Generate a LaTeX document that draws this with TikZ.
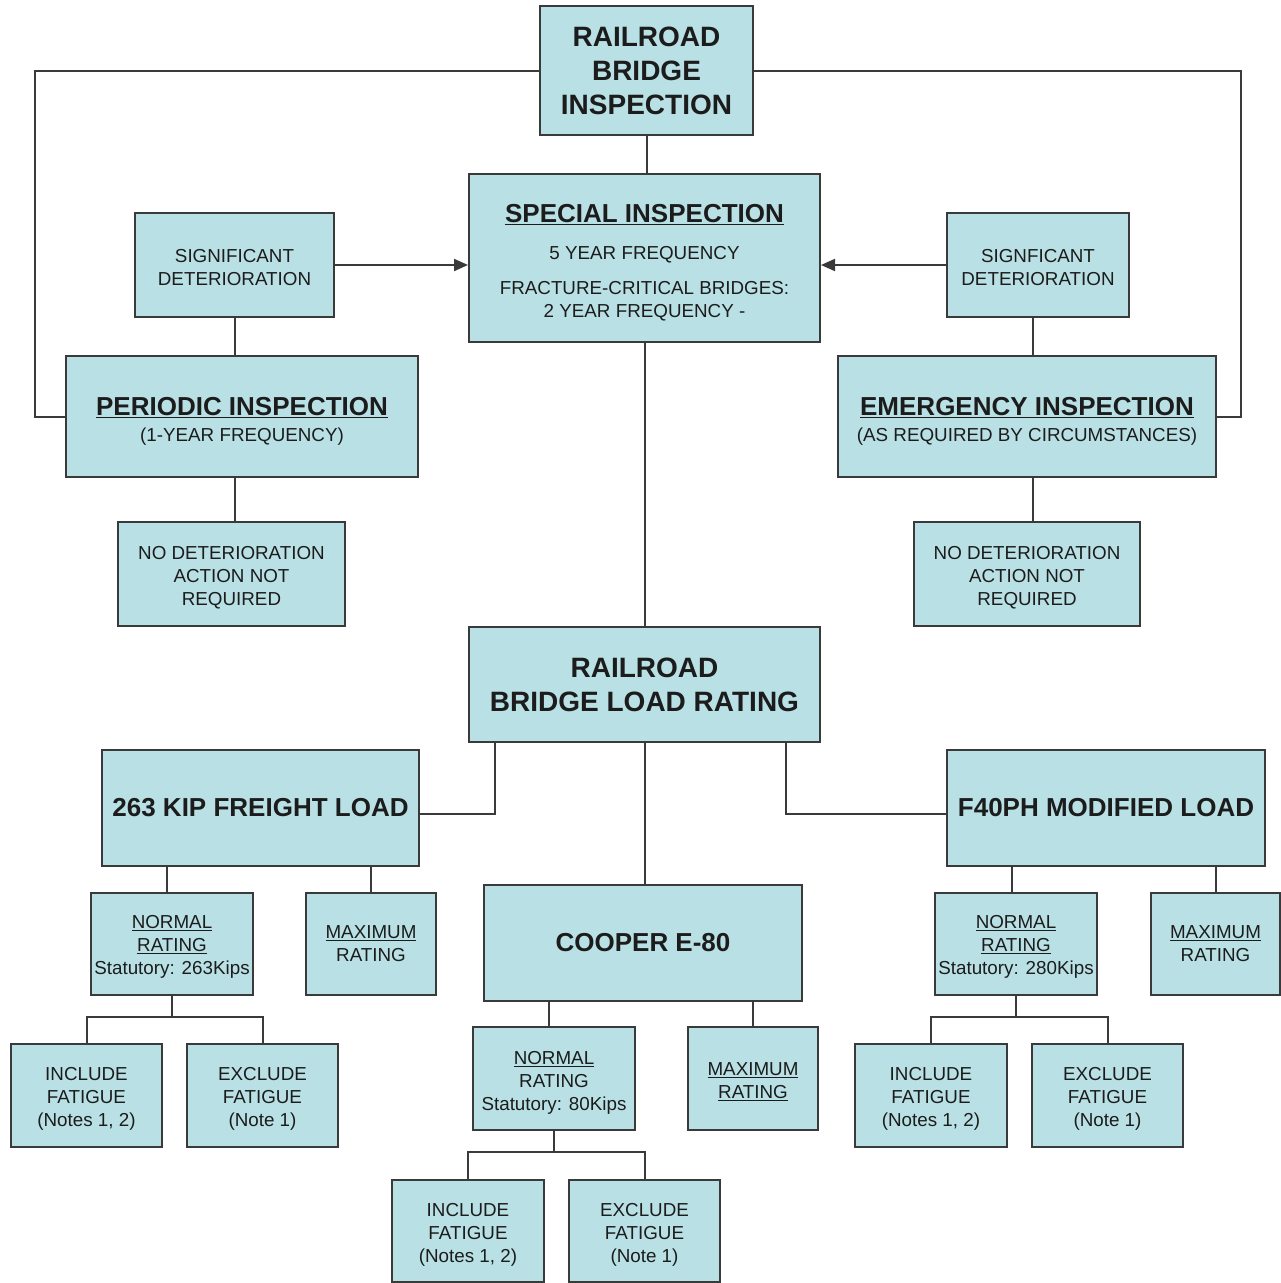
\documentclass[tikz,border=0pt]{standalone}
\usepackage{fontspec}
\setmainfont{Liberation Sans}
\usetikzlibrary{arrows.meta}
\definecolor{boxfill}{RGB}{185,225,229}
\definecolor{linec}{RGB}{58,58,58}
\definecolor{txt}{RGB}{28,28,28}
\tikzset{
  box/.style={draw=linec, fill=boxfill, line width=2pt, inner sep=0pt, align=center, text=txt,
    font=\fontsize{18.8}{23}\selectfont},
  bigbox/.style={box, font=\bfseries\fontsize{28}{34}\selectfont},
  midbox/.style={box, font=\bfseries\fontsize{26}{30}\selectfont},
  conn/.style={draw=linec, line width=2pt},
  arr/.style={conn, -{Triangle[length=14pt,width=12pt]}},
}
\newcommand{\ttl}[1]{{\bfseries\fontsize{26}{30}\selectfont\underline{#1}}}
\newcommand{\lw}[1]{\vrule height #1 width 0pt depth 0pt\relax}
\begin{document}
\begin{tikzpicture}[x=1pt,y=-1pt]
\fill[white] (0,0) rectangle (1281,1283);
\useasboundingbox (0,0) rectangle (1281,1283);

% inspection part
\node[bigbox, minimum width=213pt, minimum height=129pt] (top) at (646.5,70.5) {RAILROAD\\BRIDGE\\INSPECTION};
\node[box, minimum width=351pt, minimum height=168pt] (special) at (644.5,258)
  {\lw{28pt}\ttl{SPECIAL INSPECTION}\\[14pt]5 YEAR FREQUENCY\\[12pt]FRACTURE-CRITICAL BRIDGES:\\2 YEAR FREQUENCY -};
\node[box, minimum width=199pt, minimum height=104pt] (sigL) at (234.5,265) {\lw{17.5pt}SIGNIFICANT\\DETERIORATION};
\node[box, minimum width=182pt, minimum height=104pt] (sigR) at (1038,265) {\lw{17.5pt}SIGNFICANT\\DETERIORATION};
\node[box, minimum width=352pt, minimum height=121pt] (periodic) at (242,416.5)
  {\lw{28.5pt}\ttl{PERIODIC INSPECTION}\\[3pt](1-YEAR FREQUENCY)};
\node[box, minimum width=378pt, minimum height=121pt] (emerg) at (1027,416.5)
  {\lw{28.5pt}\ttl{EMERGENCY INSPECTION}\\[3pt](AS REQUIRED BY CIRCUMSTANCES)};
\node[box, minimum width=227pt, minimum height=104pt] (nodetL) at (231.5,574) {\lw{21.5pt}NO DETERIORATION\\ACTION NOT\\REQUIRED};
\node[box, minimum width=226pt, minimum height=104pt] (nodetR) at (1027,574) {\lw{21.5pt}NO DETERIORATION\\ACTION NOT\\REQUIRED};

% load rating part
\node[bigbox, minimum width=351pt, minimum height=115pt] (rating) at (644.5,684.5) {RAILROAD\\BRIDGE LOAD RATING};
\node[midbox, minimum width=317pt, minimum height=116pt] (kip) at (260.5,808) {263 KIP FREIGHT LOAD};
\node[midbox, minimum width=318pt, minimum height=116pt] (f40) at (1106,808) {F40PH MODIFIED LOAD};
\node[midbox, minimum width=318pt, minimum height=116pt] (cooper) at (643,943) {COOPER E-80};

\node[box, minimum width=162pt, minimum height=102pt] (normK) at (172,944) {\lw{19.5pt}\underline{NORMAL}\\\underline{RATING}\\Statutory: 263Kips};
\node[box, minimum width=130pt, minimum height=102pt] (maxK) at (371,944) {\underline{MAXIMUM}\\RATING};
\node[box, minimum width=151pt, minimum height=103pt] (incK) at (86.5,1095.5) {\lw{19.5pt}INCLUDE\\FATIGUE\\(Notes 1, 2)};
\node[box, minimum width=151pt, minimum height=103pt] (excK) at (262.5,1095.5) {\lw{19.5pt}EXCLUDE\\FATIGUE\\(Note 1)};

\node[box, minimum width=162pt, minimum height=102pt] (normF) at (1016,944) {\lw{19.5pt}\underline{NORMAL}\\\underline{RATING}\\Statutory: 280Kips};
\node[box, minimum width=129pt, minimum height=102pt] (maxF) at (1215.5,944) {\underline{MAXIMUM}\\RATING};
\node[box, minimum width=152pt, minimum height=103pt] (incF) at (931,1095.5) {\lw{19.5pt}INCLUDE\\FATIGUE\\(Notes 1, 2)};
\node[box, minimum width=151pt, minimum height=103pt] (excF) at (1107.5,1095.5) {\lw{19.5pt}EXCLUDE\\FATIGUE\\(Note 1)};

\node[box, minimum width=162pt, minimum height=103pt] (normC) at (554,1078.5) {\lw{21.5pt}\underline{NORMAL}\\RATING\\Statutory: 80Kips};
\node[box, minimum width=130pt, minimum height=103pt] (maxC) at (753,1078.5) {\lw{19.5pt}\underline{MAXIMUM}\\\underline{RATING}};
\node[box, minimum width=152pt, minimum height=102pt] (incC) at (468,1231) {\lw{21.5pt}INCLUDE\\FATIGUE\\(Notes 1, 2)};
\node[box, minimum width=151pt, minimum height=102pt] (excC) at (644.5,1231) {\lw{21.5pt}EXCLUDE\\FATIGUE\\(Note 1)};

% rails
\coordinate (lrail) at (35,0);
\coordinate (rrail) at (1241,0);
\coordinate (rx) at (1033,0);

% connectors
\draw[conn] (top.south) -- (top.south |- special.north);
\draw[conn] (top.west) -| (lrail |- periodic.west) -- (periodic.west);
\draw[conn] (top.east) -| (rrail |- emerg.east) -- (emerg.east);
\draw[arr] (sigL.east) -- (special.west |- sigL.east);
\draw[arr] (sigR.west) -- (special.east |- sigR.west);
\draw[conn] (sigL.south) -- (sigL.south |- periodic.north);
\draw[conn] (sigL.south |- periodic.south) -- (sigL.south |- nodetL.north);
\draw[conn] (rx |- sigR.south) -- (rx |- emerg.north);
\draw[conn] (rx |- emerg.south) -- (rx |- nodetR.north);
\draw[conn] (special.south) -- (rating.north);

\draw[conn] ([xshift=-149.5pt]rating.south) |- ([yshift=-6pt]kip.east);
\draw[conn] ([xshift=141.5pt]rating.south) |- ([yshift=-6pt]f40.west);
\draw[conn] (rating.south) -- (rating.south |- cooper.north);

\draw[conn] ([xshift=-5pt]normK.north |- kip.south) -- ([xshift=-5pt]normK.north);
\draw[conn] (maxK.north |- kip.south) -- (maxK.north);
\draw[conn] (normK.south) -- ++(0,21) coordinate (jK);
\draw[conn] (incK.north) |- (jK) -| (excK.north);

\draw[conn] ([xshift=-4pt]normF.north |- f40.south) -- ([xshift=-4pt]normF.north);
\draw[conn] (maxF.north |- f40.south) -- (maxF.north);
\draw[conn] (normF.south) -- ++(0,21) coordinate (jF);
\draw[conn] (incF.north) |- (jF) -| (excF.north);

\draw[conn] ([xshift=-5pt]normC.north |- cooper.south) -- ([xshift=-5pt]normC.north);
\draw[conn] (maxC.north |- cooper.south) -- (maxC.north);
\draw[conn] (normC.south) -- ++(0,21) coordinate (jC);
\draw[conn] (incC.north) |- (jC) -| (excC.north);
\end{tikzpicture}
\end{document}
